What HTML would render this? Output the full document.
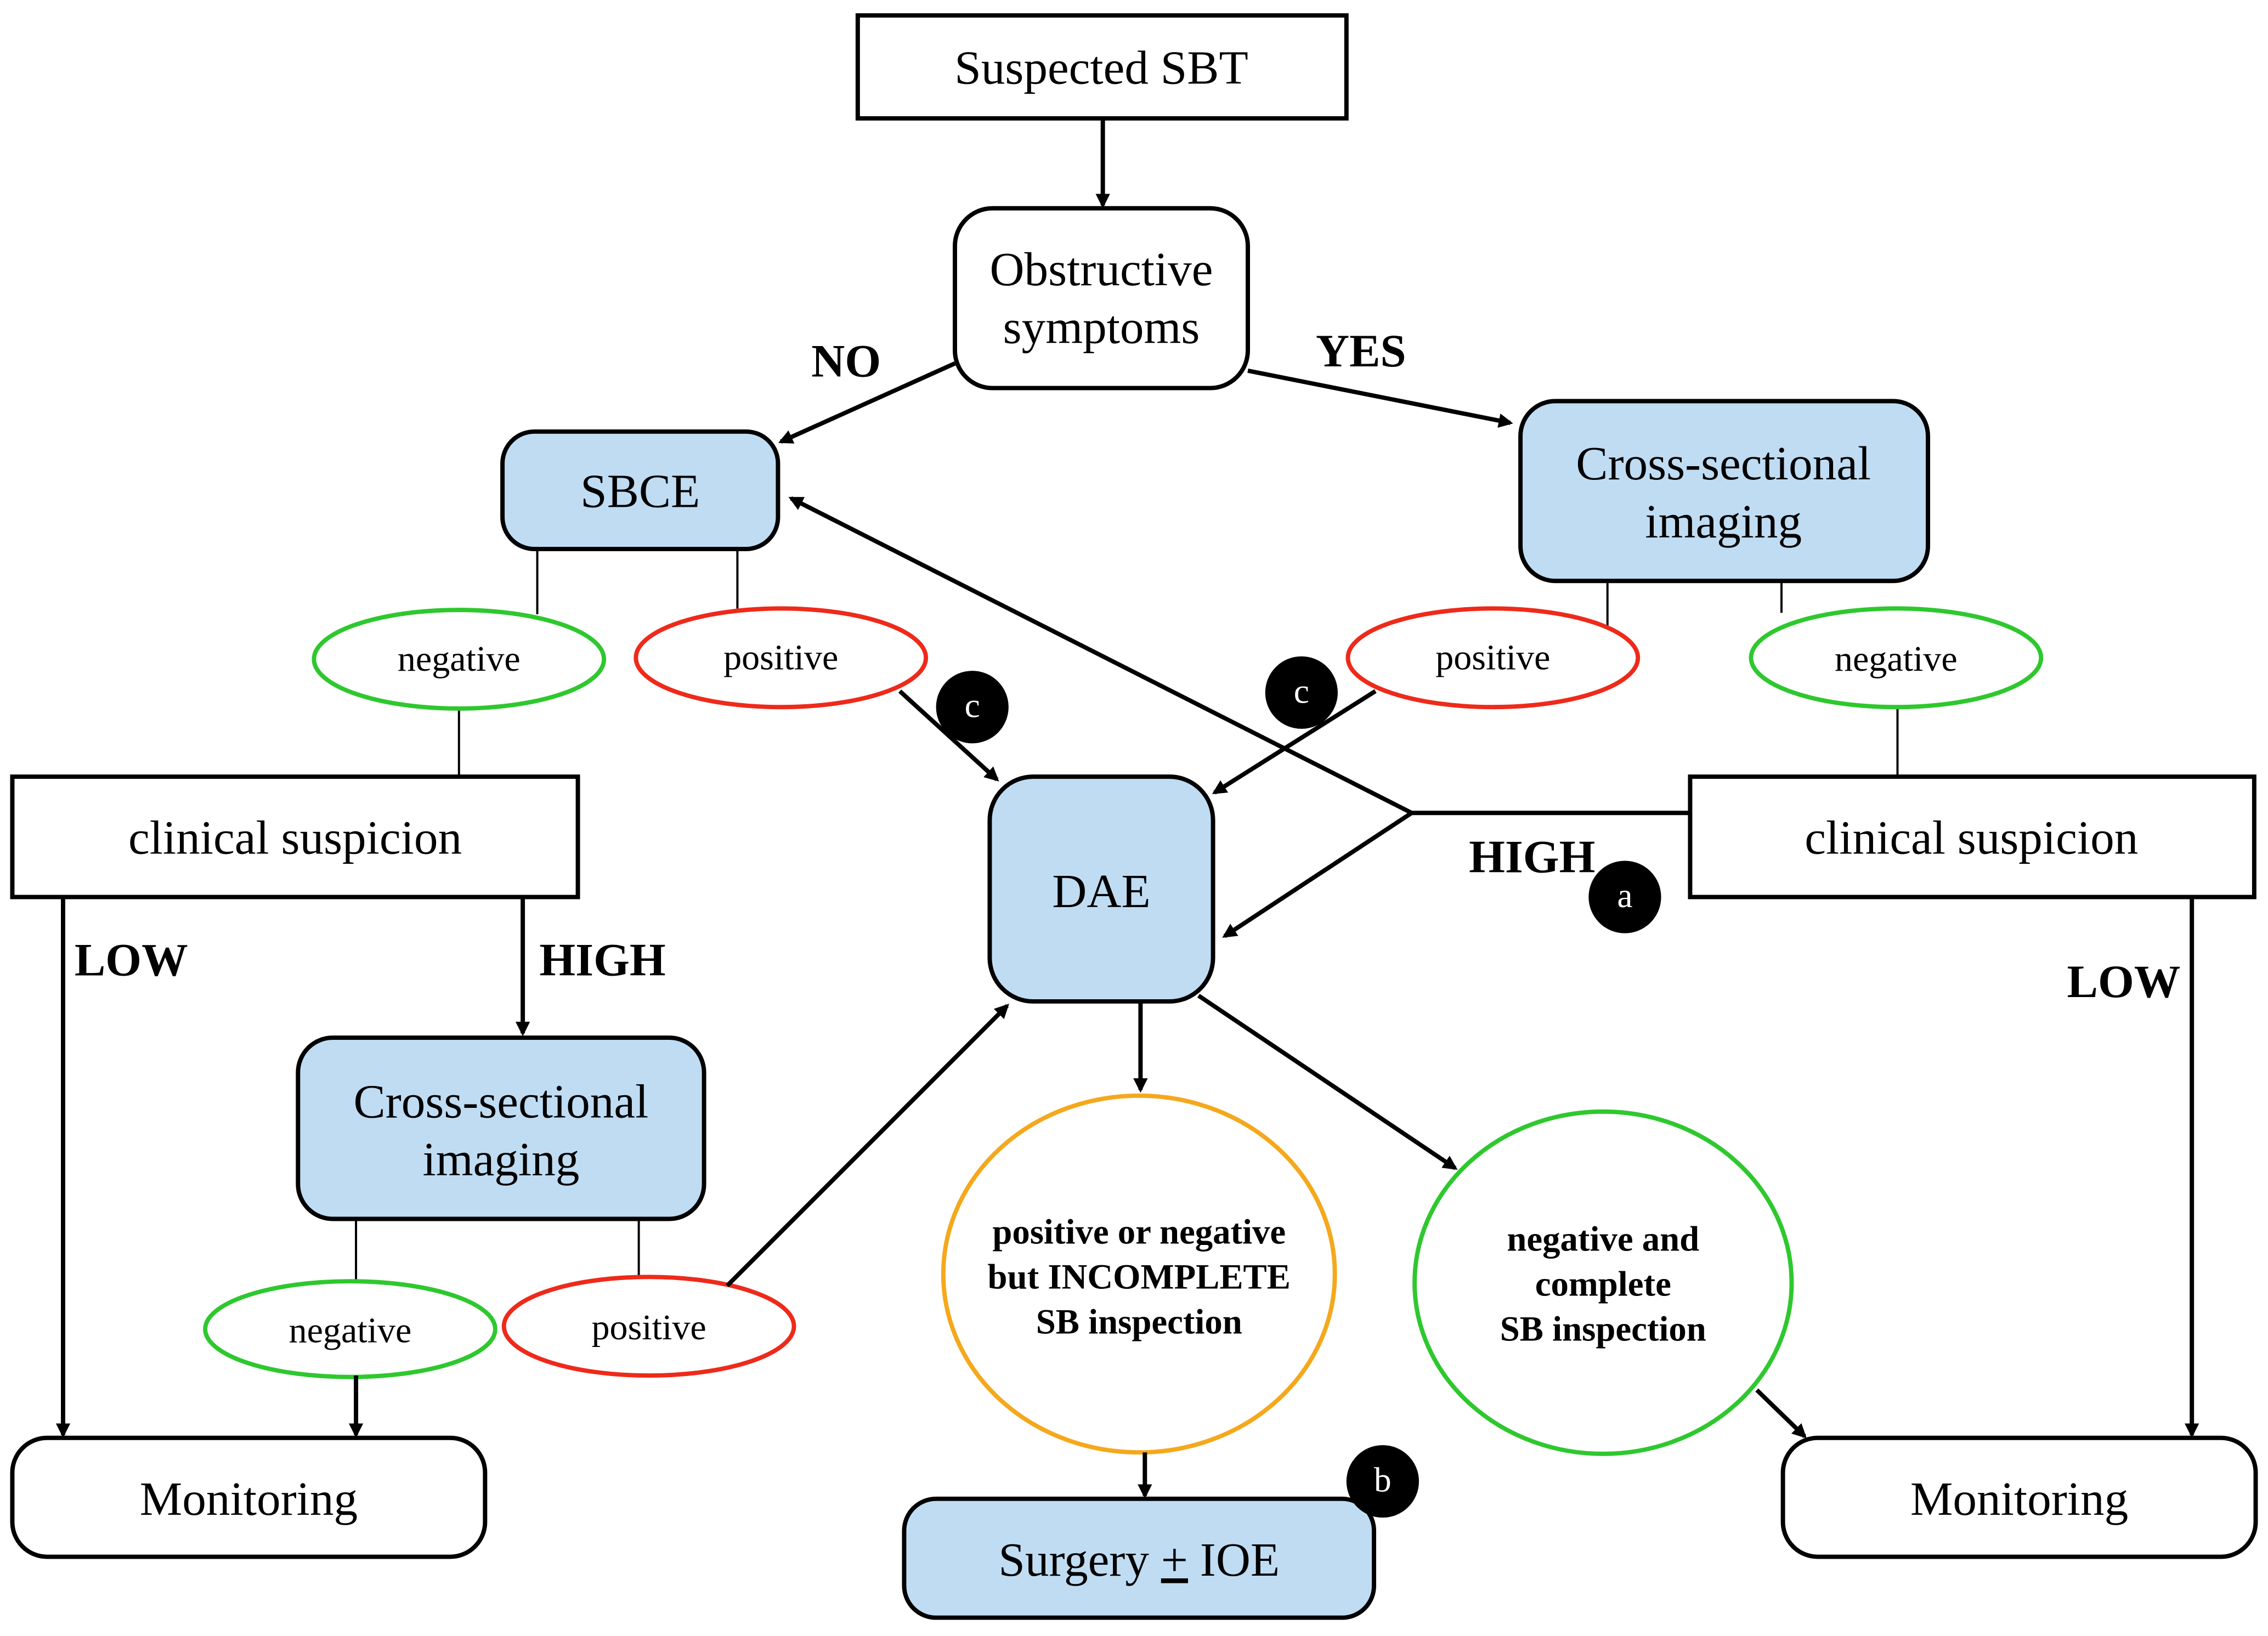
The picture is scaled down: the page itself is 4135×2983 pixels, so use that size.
<!DOCTYPE html>
<html><head><meta charset="utf-8"><style>
html,body{margin:0;padding:0;background:#fff;}
svg{display:block;}
text{font-family:"Liberation Serif",serif;fill:#000;}
</style></head><body>
<svg width="4135" height="2983" viewBox="0 0 1564 1128" xmlns="http://www.w3.org/2000/svg">
<defs>
<marker id="ah" markerWidth="10" markerHeight="10" refX="8" refY="5" orient="auto" markerUnits="userSpaceOnUse" viewBox="0 0 10 10">
<path d="M0,0 L10,5 L0,10 z" fill="#000"/>
</marker>
</defs>
<rect width="1564" height="1128" fill="#fff"/>
<g transform="translate(-1.5,-1.5)">
<g stroke="#000" stroke-width="3" fill="none">
<rect x="593" y="12" width="337" height="71" fill="#fff"/>
<rect x="660" y="145" width="202" height="124" rx="26" fill="#fff"/>
<rect x="348" y="299" width="190" height="81" rx="22" fill="#bfdcf3"/>
<rect x="1050" y="278" width="281" height="124" rx="24" fill="#bfdcf3"/>
<rect x="10" y="537" width="390" height="83" fill="#fff"/>
<rect x="1167" y="537" width="389" height="83" fill="#fff"/>
<rect x="684" y="537" width="154" height="155" rx="30" fill="#bfdcf3"/>
<rect x="207" y="717" width="280" height="125" rx="24" fill="#bfdcf3"/>
<rect x="10" y="993" width="326" height="82" rx="24" fill="#fff"/>
<rect x="1231" y="993" width="326" height="82" rx="24" fill="#fff"/>
<rect x="625" y="1035" width="324" height="82" rx="22" fill="#bfdcf3"/>
</g>
<g stroke="#000" stroke-width="1.5">
<line x1="372" y1="380" x2="372" y2="425"/>
<line x1="510" y1="380" x2="510" y2="421"/>
<line x1="1110" y1="402" x2="1110" y2="436"/>
<line x1="1230" y1="402" x2="1230" y2="424"/>
<line x1="318" y1="490" x2="318" y2="537"/>
<line x1="1310" y1="490" x2="1310" y2="537"/>
<line x1="247" y1="842" x2="247" y2="885"/>
<line x1="442" y1="842" x2="442" y2="882"/>
</g>
<g stroke-width="3" fill="#fff">
<ellipse cx="318" cy="456" rx="100" ry="34" stroke="#2ec82e"/>
<ellipse cx="540" cy="455" rx="100" ry="34" stroke="#ee2a1a"/>
<ellipse cx="1031" cy="455" rx="100" ry="34" stroke="#ee2a1a"/>
<ellipse cx="1309" cy="455" rx="100" ry="34" stroke="#2ec82e"/>
<ellipse cx="243" cy="918" rx="100" ry="33" stroke="#2ec82e"/>
<ellipse cx="449" cy="916" rx="100" ry="34" stroke="#ee2a1a"/>
<ellipse cx="787" cy="880" rx="135" ry="123" stroke="#f5a81c"/>
<ellipse cx="1107" cy="886" rx="130" ry="118" stroke="#2ec82e"/>
</g>
<g stroke="#000" stroke-width="3" fill="none" marker-end="url(#ah)">
<line x1="762" y1="83" x2="762" y2="143"/>
<line x1="660" y1="252" x2="540" y2="306"/>
<line x1="862" y1="257" x2="1043" y2="293"/>
<line x1="622" y1="478" x2="689" y2="539"/>
<line x1="950" y1="478" x2="839" y2="548"/>
<polyline points="1167,562 975,562 547,345"/>
<line x1="975" y1="562" x2="846" y2="647"/>
<line x1="45" y1="620" x2="45" y2="991"/>
<line x1="362" y1="620" x2="362" y2="714"/>
<line x1="247" y1="950" x2="247" y2="991"/>
<line x1="503" y1="888" x2="696" y2="695"/>
<line x1="788" y1="692" x2="788" y2="753"/>
<line x1="828" y1="688" x2="1005" y2="807"/>
<line x1="791" y1="1003" x2="791" y2="1033"/>
<line x1="1213" y1="960" x2="1246" y2="992"/>
<line x1="1513" y1="620" x2="1513" y2="991"/>
</g>
<g fill="#000">
<circle cx="672" cy="489" r="25"/>
<circle cx="899" cy="479" r="25"/>
<circle cx="1122" cy="620" r="25"/>
<circle cx="955" cy="1023" r="25"/>
</g>
<g font-size="24" text-anchor="middle">
<text x="672" y="496" style="fill:#fff">c</text>
<text x="899" y="486" style="fill:#fff">c</text>
<text x="1122" y="627" style="fill:#fff">a</text>
<text x="955" y="1030" style="fill:#fff">b</text>
</g>
<g font-size="33" text-anchor="middle">
<text x="761" y="59">Suspected SBT</text>
<text x="761" y="198">Obstructive</text>
<text x="761" y="238">symptoms</text>
<text x="443" y="351">SBCE</text>
<text x="1190" y="332">Cross-sectional</text>
<text x="1190" y="372">imaging</text>
<text x="205" y="590">clinical suspicion</text>
<text x="1361" y="590">clinical suspicion</text>
<text x="761" y="627">DAE</text>
<text x="347" y="772">Cross-sectional</text>
<text x="347" y="812">imaging</text>
<text x="173" y="1046">Monitoring</text>
<text x="1394" y="1046">Monitoring</text>
<text x="787" y="1088">Surgery <tspan text-decoration="underline">+</tspan> IOE</text>
</g>
<g font-size="25" text-anchor="middle">
<text x="318" y="464">negative</text>
<text x="540" y="463">positive</text>
<text x="1031" y="463">positive</text>
<text x="1309" y="464">negative</text>
<text x="243" y="927">negative</text>
<text x="449" y="925">positive</text>
</g>
<g font-size="24.5" font-weight="bold" text-anchor="middle">
<text x="787" y="859">positive or negative</text>
<text x="787" y="890">but INCOMPLETE</text>
<text x="787" y="921">SB inspection</text>
<text x="1107" y="864">negative and</text>
<text x="1107" y="895">complete</text>
<text x="1107" y="926">SB inspection</text>
</g>
<g font-size="32" font-weight="bold" text-anchor="middle">
<text x="585" y="261">NO</text>
<text x="940" y="254">YES</text>
<text x="1058" y="603">HIGH</text>
<text x="92" y="674">LOW</text>
<text x="417" y="674">HIGH</text>
<text x="1466" y="689">LOW</text>
</g>
</g>
</svg>
</body></html>
